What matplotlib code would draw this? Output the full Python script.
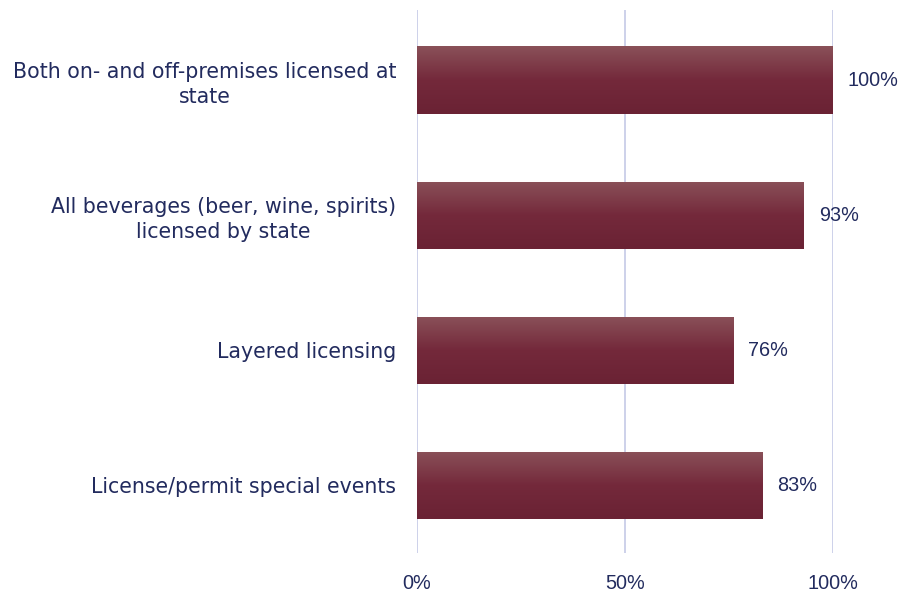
import numpy as np
import matplotlib.pyplot as plt
from matplotlib.colors import LinearSegmentedColormap

categories = [
    'Both on- and off-premises licensed at\nstate',
    'All beverages (beer, wine, spirits)\nlicensed by state',
    'Layered licensing',
    'License/permit special events',
]
values = [100, 93, 76, 83]
ticks = [0, 50, 100]
tick_labels = ['0%', '50%', '100%']

text_color = '#222b5e'
grid_color = '#cdd1ea'
bar_cmap = LinearSegmentedColormap.from_list('bar', ['#6a2234', '#74293b', '#8a5159'])

fig = plt.figure(figsize=(8.98, 5.92), dpi=100)
ax = fig.add_axes([417 / 898, 1 - 553 / 592, 416 / 898, 543 / 592])

y = np.arange(len(categories))
bars = ax.barh(y, values, height=0.5, color='#72283a')

# vertical gradient inside each bar, light on top
grad = np.linspace(0, 1, 256).reshape(-1, 1)
for bar in bars:
    x0, y0 = bar.get_x(), bar.get_y()
    w, h = bar.get_width(), bar.get_height()
    im = ax.imshow(grad, cmap=bar_cmap, aspect='auto', origin='lower',
                   extent=(x0, x0 + w, y0 + h, y0), zorder=3)
    im.set_clip_path(bar)
    bar.set_zorder(2)

for yi, v in zip(y, values):
    ax.text(v + 3.6, yi, f'{v}%', va='center', ha='left', fontsize=14.3,
            color=text_color, family='Liberation Sans')

ax.set_xlim(0, 100)
ax.set_ylim(len(categories) - 0.5, -0.52)
ax.set_xticks(ticks)
ax.set_xticklabels(tick_labels, fontsize=14.3, color=text_color, family='Liberation Sans')
ax.set_yticks(y)
ax.set_yticklabels(categories, fontsize=14.8, color=text_color, ha='right',
                   multialignment='center', linespacing=1.3, family='DejaVu Sans')
ax.tick_params(axis='y', length=0, pad=15)
ax.tick_params(axis='x', length=0, pad=15)
for s in ax.spines.values():
    s.set_visible(False)
ax.grid(axis='x', color=grid_color, linewidth=1.4)
ax.set_axisbelow(True)

fig.savefig('out.png', dpi=100)
